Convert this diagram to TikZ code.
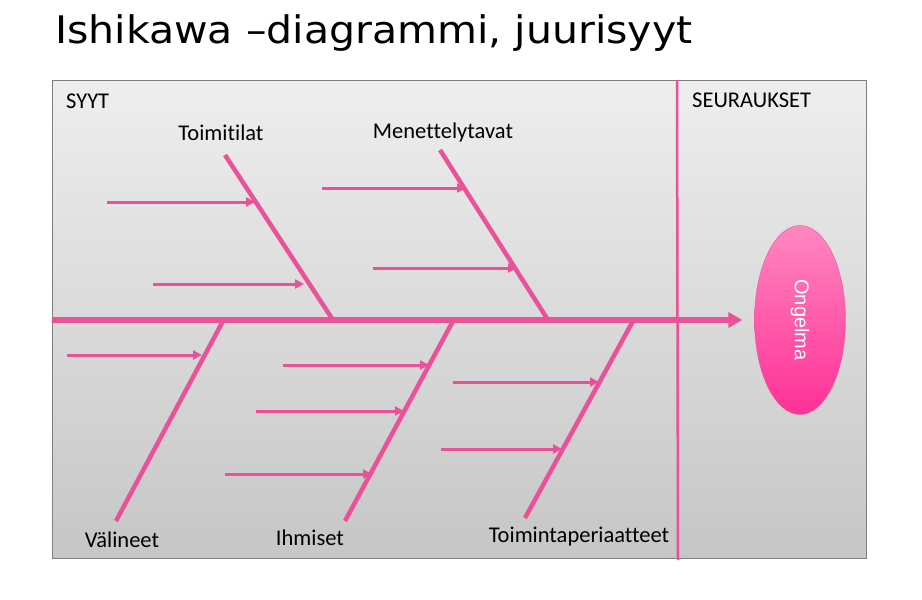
\documentclass[tikz,border=0pt]{standalone}
\usepackage{fontspec}
\setmainfont[Ligatures={NoCommon,NoRequired,NoContextual}]{Carlito}
\newfontfamily\otsikkofont[FakeStretch=1.08]{DejaVu Sans}
\newfontfamily\arialfont{Liberation Sans}
\usetikzlibrary{arrows.meta,shapes.geometric}

\definecolor{pinkki}{RGB}{233,82,152}
\definecolor{taustaylä}{RGB}{238,238,238}
\definecolor{taustaala}{RGB}{198,198,198}
\definecolor{pallovalo}{RGB}{255,135,192}
\definecolor{pallotumma}{RGB}{255,48,150}

\begin{document}
\begin{tikzpicture}[x=1pt,y=-1pt,
    luu/.style={pinkki, line width=4.5pt},
    syy/.style={pinkki, line width=3pt, -{Triangle[length=9pt,width=9pt]}},
    otsake/.style={font=\fontsize{22.5}{25}\selectfont, inner sep=0pt}]
    \useasboundingbox (0,0) rectangle (922,600);

    \node[anchor=base west, inner sep=0pt, font=\otsikkofont\fontsize{38}{42}\selectfont] (otsikko) at (55,43) {Ishikawa –diagrammi, juurisyyt};

    % kehys ja jako syihin / seurauksiin
    \node[draw=gray, line width=1pt, top color=taustaylä, bottom color=taustaala,
          minimum width=814, minimum height=478, inner sep=0pt, anchor=north west] (kehys) at (52,80) {};
    \coordinate (jakoyla) at (677,80);
    \coordinate (jakoala) at (678,560);
    \draw[pinkki, line width=2.5pt] (jakoyla) -- (jakoala);

    \node[otsake, anchor=base west] (syyt) at (66,108) {SYYT};
    \node[otsake, anchor=base west] (seuraukset) at (692,107) {SEURAUKSET};

    % ongelma ja selkäranka
    \node[ellipse, draw=pinkki, top color=pallovalo, bottom color=pallotumma,
          minimum width=91, minimum height=189, inner sep=0pt] (ongelma) at (800,320)
          {\rotatebox{-90}{\arialfont\fontsize{20}{22}\selectfont\color{white}Ongelma}};
    \coordinate (hanta) at (52,320);
    \draw[pinkki, line width=5.5pt, -{Triangle[length=14pt,width=15pt]}, shorten >=12pt] (hanta) -- (ongelma);

    % ylemmät luut
    \coordinate (tt1) at (225,155);  \coordinate (tt2) at (333,320);
    \coordinate (tt1a) at (107,202); \coordinate (tt1b) at (255,202);
    \coordinate (tt2a) at (153,284); \coordinate (tt2b) at (304,284);
    \draw[luu] (tt1) -- (tt2);
    \draw[syy] (tt1a) -- (tt1b);
    \draw[syy] (tt2a) -- (tt2b);
    \node[otsake, anchor=base] (toimitilat) at (221,140) {Toimitilat};

    \coordinate (mt1) at (440,150);  \coordinate (mt2) at (548,320);
    \coordinate (mt1a) at (322,188); \coordinate (mt1b) at (466,188);
    \coordinate (mt2a) at (373,268); \coordinate (mt2b) at (517,268);
    \draw[luu] (mt1) -- (mt2);
    \draw[syy] (mt1a) -- (mt1b);
    \draw[syy] (mt2a) -- (mt2b);
    \node[otsake, anchor=base] (menettelytavat) at (443,138) {Menettelytavat};

    % alemmat luut
    \coordinate (va1) at (223,321);  \coordinate (va2) at (116,521);
    \coordinate (va1a) at (67,355);  \coordinate (va1b) at (202,355);
    \draw[luu] (va1) -- (va2);
    \draw[syy] (va1a) -- (va1b);
    \node[otsake, anchor=base] (valineet) at (122,547) {Välineet};

    \coordinate (ih1) at (453,321);  \coordinate (ih2) at (345,521);
    \coordinate (ih1a) at (283,365); \coordinate (ih1b) at (429,365);
    \coordinate (ih2a) at (256,411); \coordinate (ih2b) at (404,411);
    \coordinate (ih3a) at (225,474); \coordinate (ih3b) at (372,474);
    \draw[luu] (ih1) -- (ih2);
    \draw[syy] (ih1a) -- (ih1b);
    \draw[syy] (ih2a) -- (ih2b);
    \draw[syy] (ih3a) -- (ih3b);
    \node[otsake, anchor=base] (ihmiset) at (310,545) {Ihmiset};

    \coordinate (tp1) at (633,321);  \coordinate (tp2) at (525,518);
    \coordinate (tp1a) at (453,382); \coordinate (tp1b) at (599,382);
    \coordinate (tp2a) at (441,449); \coordinate (tp2b) at (562,449);
    \draw[luu] (tp1) -- (tp2);
    \draw[syy] (tp1a) -- (tp1b);
    \draw[syy] (tp2a) -- (tp2b);
    \node[otsake, anchor=base] (toimintaperiaatteet) at (579,542) {Toimintaperiaatteet};

\end{tikzpicture}
\end{document}
